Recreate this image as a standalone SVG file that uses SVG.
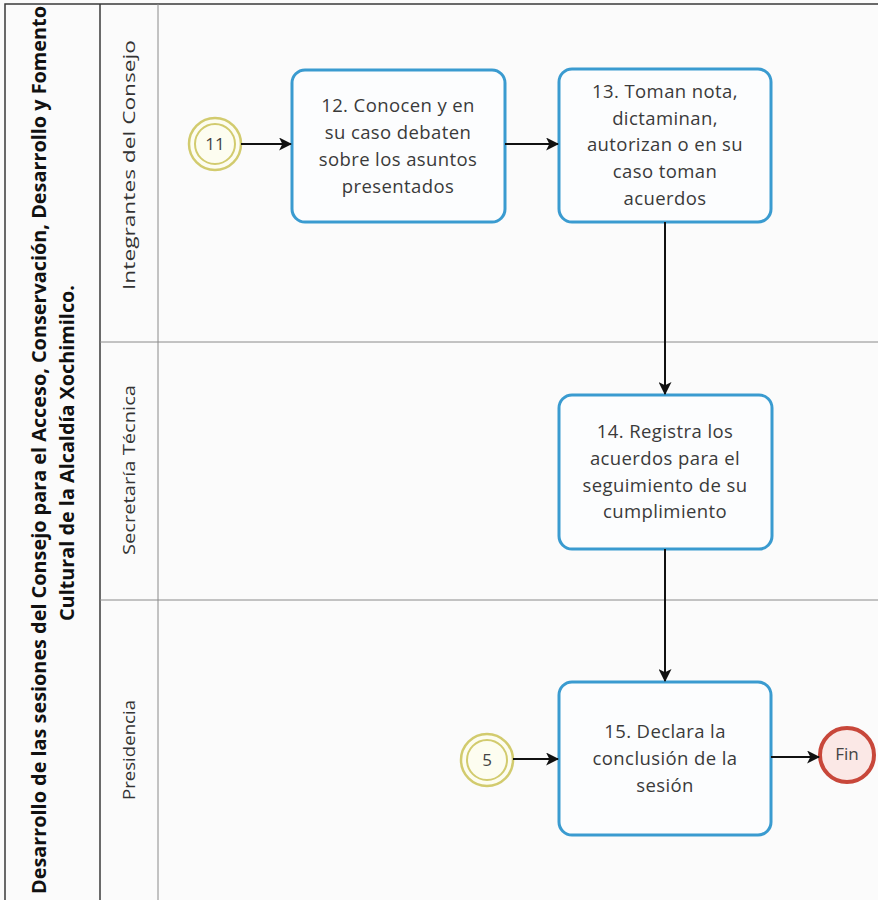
<svg xmlns="http://www.w3.org/2000/svg" width="878" height="900" viewBox="0 0 878 900">
<style>
.pool{fill:none;stroke:#3a3a3a;stroke-width:1.5}
.lane{fill:none;stroke:#8a8a8a;stroke-width:1}
.title{font-family:"Open Sans","Noto Sans",sans-serif;font-weight:bold;font-size:19px;fill:#111}
.lanelbl{font-family:"Open Sans","Noto Sans",sans-serif;font-size:17px;fill:#333}
.task rect{fill:#fcfdfe;stroke:#3a9bd0;stroke-width:3}
.task text{font-family:"Open Sans","Noto Sans",sans-serif;font-size:18.5px;letter-spacing:0.4px;fill:#3a3a3a;text-anchor:middle}
.link .o{fill:#fdfdf0;stroke:#d2cb6e;stroke-width:2.5}
.link .i{fill:none;stroke:#d2cb6e;stroke-width:2}
.link text{font-family:"Open Sans","Noto Sans",sans-serif;font-size:17px;fill:#444;text-anchor:middle}
.end circle{fill:#fbe8e6;stroke:#c8473a;stroke-width:4}
.end text{font-family:"Open Sans","Noto Sans",sans-serif;font-size:17px;fill:#444;text-anchor:middle}
.flow{fill:none;stroke:#111;stroke-width:2;marker-end:url(#arr)}
</style>
<defs>
<marker id="arr" viewBox="0 0 12 12" refX="11" refY="6" markerWidth="13" markerHeight="13" markerUnits="userSpaceOnUse" orient="auto">
<path d="M0,0 L12,6 L0,12 L3,6 Z" fill="#111"/>
</marker>
</defs>
<rect width="878" height="900" fill="#fbfbfb"/>
<g id="pool">
<rect x="5" y="4" width="900" height="910" class="pool"/>
<line x1="100" y1="4" x2="100" y2="900" class="pool"/>
<line x1="158" y1="4" x2="158" y2="900" class="lane"/>
<line x1="100" y1="342" x2="878" y2="342" class="lane"/>
<line x1="100" y1="600" x2="878" y2="600" class="lane"/>
<text class="title" transform="translate(46,450) rotate(-90)" text-anchor="middle" textLength="888" lengthAdjust="spacingAndGlyphs">Desarrollo de las sesiones del Consejo para el Acceso, Conservación, Desarrollo y Fomento</text>
<text class="title" transform="translate(74,453) rotate(-90)" text-anchor="middle" textLength="336" lengthAdjust="spacingAndGlyphs">Cultural de la Alcaldía Xochimilco.</text>
</g>
<g id="lane-integrantes"><text class="lanelbl" transform="translate(135,165) rotate(-90)" text-anchor="middle" textLength="250" lengthAdjust="spacingAndGlyphs">Integrantes del Consejo</text></g>
<g id="lane-secretaria"><text class="lanelbl" transform="translate(135,470) rotate(-90)" text-anchor="middle" textLength="170" lengthAdjust="spacingAndGlyphs">Secretaría Técnica</text></g>
<g id="lane-presidencia"><text class="lanelbl" transform="translate(135,750) rotate(-90)" text-anchor="middle" textLength="100" lengthAdjust="spacingAndGlyphs">Presidencia</text></g>

<g id="link11" class="link"><circle cx="215" cy="144" r="26" class="o"/><circle cx="215" cy="144" r="20" class="i"/><text x="215" y="150">11</text></g>
<g id="task12" class="task"><rect x="292" y="70" width="213" height="152" rx="13"/>
<text x="398" y="112">12. Conocen y en</text><text x="398" y="139">su caso debaten</text><text x="398" y="166">sobre los asuntos</text><text x="398" y="193">presentados</text></g>
<g id="task13" class="task"><rect x="559" y="69" width="212" height="153" rx="13"/>
<text x="665" y="98">13. Toman nota,</text><text x="665" y="125">dictaminan,</text><text x="665" y="151">autorizan o en su</text><text x="665" y="178">caso toman</text><text x="665" y="205">acuerdos</text></g>
<g id="task14" class="task"><rect x="559" y="395" width="213" height="154" rx="13"/>
<text x="665" y="438">14. Registra los</text><text x="665" y="465">acuerdos para el</text><text x="665" y="492">seguimiento de su</text><text x="665" y="518">cumplimiento</text></g>
<g id="task15" class="task"><rect x="559" y="682" width="212" height="153" rx="13"/>
<text x="665" y="738">15. Declara la</text><text x="665" y="765">conclusión de la</text><text x="665" y="792">sesión</text></g>
<g id="link5" class="link"><circle cx="487" cy="760" r="26" class="o"/><circle cx="487" cy="760" r="20" class="i"/><text x="487" y="766">5</text></g>
<g id="fin" class="end"><circle cx="847" cy="755" r="27"/><text x="847" y="760">Fin</text></g>

<g id="connectors">
<path class="flow" d="M241,144 H291"/>
<path class="flow" d="M505,144 H558"/>
<path class="flow" d="M665,222 V394"/>
<path class="flow" d="M665,549 V681"/>
<path class="flow" d="M513,759 H558"/>
<path class="flow" d="M771,757 H819"/>
</g>
</svg>
